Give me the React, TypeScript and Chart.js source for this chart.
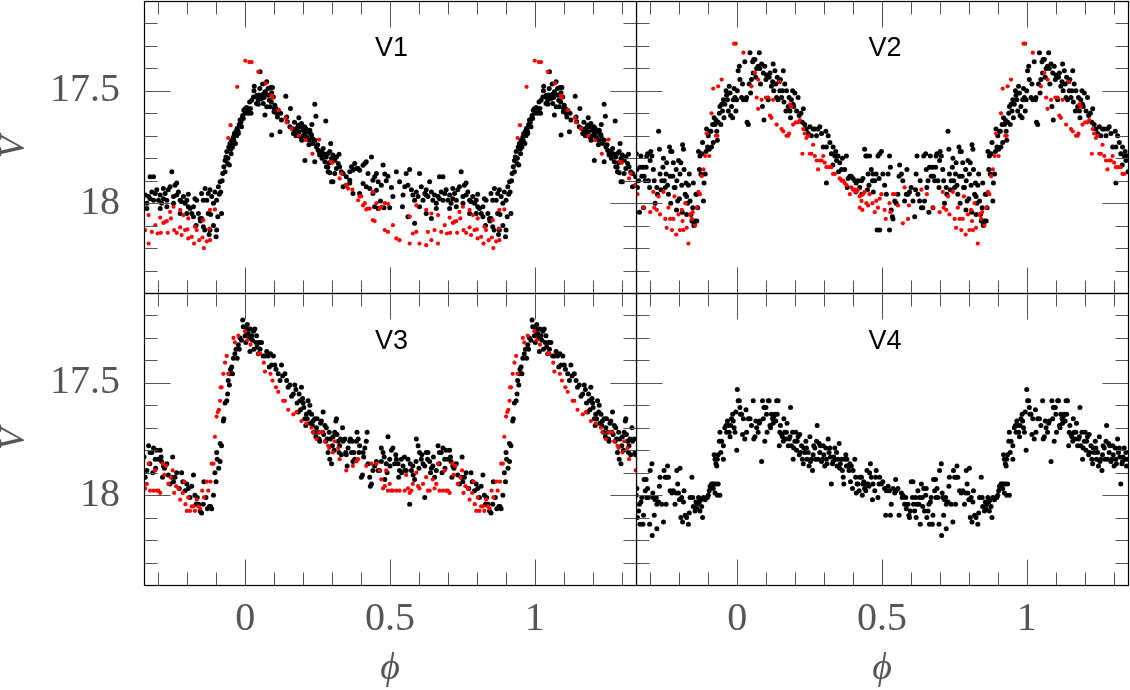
import React, { useEffect, useRef } from 'react';
import { Chart, registerables } from 'chart.js';
Chart.register(...registerables);

type Pt = [number, number];

// axis ranges and ticks
const PHASE_MIN = -0.35;
const PHASE_MAX = 1.35;
const MAG_MIN = 17.1;
const MAG_MAX = 18.4;
const phaseMinorTicks = [-0.3, -0.2, -0.1, 0, 0.1, 0.2, 0.3, 0.4, 0.5, 0.6, 0.7, 0.8, 0.9, 1, 1.1, 1.2, 1.3];
const phaseMajorTicks = [0, 0.5, 1];
const phaseTickLabels = ['0', '0.5', '1'];
const magMinorTicks = [17.2, 17.3, 17.4, 17.5, 17.6, 17.7, 17.8, 17.9, 18, 18.1, 18.2, 18.3];
const magMajorTicks = [17.5, 18];
const magTickLabels = ['17.5', '18'];
const panelNames = ['V1', 'V2', 'V3', 'V4'];

// V1 : [phase, V]
const v1Black: Pt[] = [
  [0.005,17.574],[0.01,17.586],[0.018,17.579],[0.022,17.542],[0.028,17.527],[0.031,17.48],[0.037,17.527],[0.039,17.556],[0.045,17.542],[0.048,17.519],
  [0.053,17.527],[0.056,17.534],[0.062,17.515],[0.068,17.504],[0.074,17.46],[0.079,17.49],[0.083,17.542],[0.087,17.485],[0.091,17.509],[0.094,17.485],
  [0.097,17.527],[0.102,17.564],[0.108,17.6],[0.114,17.586],[0.074,17.571],[0.068,17.608],[0.062,17.556],[0.085,17.571],[0.091,17.697],[0.099,17.593],
  [0.106,17.579],[0.111,17.616],[0.12,17.682],[0.122,17.6],[0.14,17.524],[0.156,17.579],[0.143,17.616],[0.125,17.63],[0.145,17.638],[0.154,17.66],
  [0.162,17.668],[0.166,17.69],[0.171,17.675],[0.177,17.668],[0.183,17.653],[0.186,17.682],[0.191,17.705],[0.194,17.645],[0.2,17.675],[0.206,17.69],
  [0.209,17.668],[0.211,17.705],[0.217,17.682],[0.221,17.72],[0.223,17.675],[0.229,17.697],[0.232,17.712],[0.234,17.734],[0.24,17.56],[0.244,17.613],
  [0.246,17.75],[0.252,17.764],[0.257,17.786],[0.263,17.77],[0.269,17.757],[0.275,17.782],[0.278,17.634],[0.28,17.794],[0.286,17.779],[0.292,17.77],
  [0.295,17.734],[0.298,17.801],[0.303,17.786],[0.309,17.809],[0.315,17.794],[0.321,17.823],[0.324,17.782],[0.326,17.838],[0.332,17.86],[0.303,17.81],
  [0.275,17.816],[0.28,17.838],[0.286,17.86],[0.292,17.865],[0.298,17.905],[0.303,17.905],[0.309,17.868],[0.315,17.846],[0.206,17.81],[0.24,17.816],
  [0.257,17.779],[0.338,17.868],[0.349,17.883],[0.361,17.86],[0.367,17.838],[0.372,17.853],[0.378,17.823],[0.384,17.846],[0.39,17.846],[0.395,17.853],
  [0.407,17.831],[0.413,17.823],[0.418,17.816],[0.424,17.868],[0.43,17.935],[0.436,17.794],[0.441,17.898],[0.447,17.883],[0.453,17.868],[0.459,17.905],
  [0.349,17.92],[0.361,17.898],[0.372,17.957],[0.395,17.957],[0.407,17.913],[0.418,17.927],[0.441,17.957],[0.453,17.942],[0.447,18.016],[0.459,18.024],
  [0.361,17.91],[0.338,17.927],
  [0.18,17.69],[0.19,17.66],[0.2,17.7],[0.205,17.66],[0.215,17.71],[0.225,17.69],[0.195,17.72],[0.175,17.7],[0.17,17.64],[0.185,17.62],
  [0.23,17.65],[0.22,17.74],[0.24,17.72],[0.25,17.74],[0.265,17.8],[0.27,17.78],[0.285,17.84],[0.29,17.82],[0.03,17.5],[0.04,17.52],
  [0.05,17.49],[0.06,17.47],[0.065,17.53],[0.07,17.51],[0.08,17.52],[0.09,17.55],[0.1,17.58],[0.045,17.56],[0.051,17.415],[0.02,17.6],
  [0.015,17.55],[0.01,17.6],[0.0,17.6],
  [0.47,17.92],[0.476,17.83],[0.482,17.87],[0.487,17.9],[0.493,17.88],[0.505,17.93],[0.51,17.97],[0.467,17.99],[0.479,18.02],[0.499,18.02],
  [0.522,17.86],[0.533,17.905],[0.551,17.927],[0.562,17.92],[0.568,17.85],[0.574,17.94],[0.579,17.964],[0.585,17.987],[0.591,17.95],[0.597,17.97],
  [0.602,17.868],[0.608,17.927],[0.614,17.987],[0.62,17.957],[0.625,17.94],[0.631,17.97],[0.637,17.905],[0.643,17.95],[0.648,17.987],[0.654,17.964],
  [0.66,18.0],[0.666,17.97],[0.671,17.883],[0.677,17.95],[0.683,17.883],[0.689,17.957],[0.694,17.94],[0.7,17.987],[0.706,17.964],[0.711,18.0],
  [0.717,17.98],[0.723,17.957],[0.729,17.987],[0.734,17.94],[0.74,17.927],[0.746,17.86],[0.752,17.97],[0.757,17.92],[0.763,17.91],[0.769,17.95],
  [0.775,17.987],[0.78,17.994],[0.786,17.97],[0.792,18.0],[0.798,17.987],[0.803,18.016],[0.809,18.024],[0.815,18.046],[0.821,18.016],[0.826,17.98],
  [0.832,17.987],[0.838,18.046],[0.844,18.068],[0.849,17.957],[0.855,17.987],[0.861,17.935],[0.867,17.987],[0.872,17.957],[0.878,17.94],[0.884,17.97],
  [0.89,18.0],[0.895,17.95],[0.901,17.987],[0.556,17.868],[0.543,18.016],[0.562,18.06],[0.585,18.09],[0.602,18.016],[0.625,18.046],[0.643,18.068],
  [0.66,18.024],[0.683,17.987],[0.706,18.024],[0.729,18.016],[0.752,18.0],[0.775,18.046],[0.798,18.046],[0.821,18.06],[0.849,18.068],[0.855,18.105],
  [0.872,18.046],[0.878,18.12],[0.545,17.964],[0.625,17.964],[0.671,17.98],[0.717,17.935],[0.763,17.964],[0.803,17.96],
  [0.83,18.1],[0.845,18.08],[0.86,18.12],[0.875,18.14],[0.88,18.05],[0.89,18.1],[0.899,18.15],[0.901,18.12],
  [0.907,17.927],[0.913,17.905],[0.915,17.95],[0.922,17.868],[0.926,17.838],[0.93,17.81],[0.933,17.794],[0.936,17.77],[0.939,17.823],[0.943,17.75],
  [0.947,17.734],[0.951,17.78],[0.953,17.72],[0.956,17.75],[0.959,17.705],[0.962,17.69],[0.966,17.734],[0.968,17.68],[0.972,17.666],[0.976,17.69],
  [0.979,17.65],[0.982,17.63],[0.987,17.66],[0.991,17.61],[0.993,17.623],[0.995,17.586],[0.999,17.58],
  [0.91,17.96],[0.92,17.9],[0.93,17.86],[0.94,17.8],[0.95,17.76],[0.96,17.72],[0.97,17.7],[0.975,17.68],[0.985,17.64],[0.99,17.62],
  [0.945,17.83],[0.955,17.74],[0.965,17.7],[0.905,18.06],[0.918,18.046],
];
const v1Red: Pt[] = [
  [0.401,17.97],[0.413,18.0],[0.424,18.024],[0.441,17.95],[0.453,18.0],[0.464,18.024],[0.47,18.016],[0.482,18.0],[0.493,18.003],
  [0.482,18.12],[0.493,18.128],[0.51,18.098],[0.522,18.157],[0.533,18.165],[0.568,18.18],[0.579,18.135],[0.591,18.128],[0.602,18.18],[0.625,18.187],
  [0.631,18.128],[0.643,18.165],[0.654,18.12],[0.666,18.18],[0.677,18.128],[0.689,18.098],[0.697,18.135],[0.568,18.06],[0.591,18.01],[0.625,18.03],
  [0.643,18.046],[0.666,18.053],
  [0.708,18.132],[0.717,18.088],[0.729,18.08],[0.732,18.132],[0.743,18.068],[0.754,18.12],[0.763,18.132],[0.775,18.108],[0.78,18.142],[0.792,18.12],
  [0.8,18.117],[0.803,18.157],[0.815,18.15],[0.823,18.18],[0.832,18.12],[0.841,18.165],[0.852,18.153],[0.857,18.2],[0.867,18.17],[0.878,18.165],
  [0.876,18.113],[0.895,18.028],[0.706,18.064],[0.723,18.083],[0.74,18.039],[0.752,18.016],[0.775,18.03],[0.786,18.053],[0.803,18.068],[0.826,18.105],
  [0.855,18.076],[0.878,18.03],
  [0.941,17.71],[0.949,17.653],[0.972,17.482],[0.0,17.366],[0.014,17.372],[0.022,17.372],[0.045,17.415],[0.071,17.467],[0.091,17.52],[0.094,17.53],
  [0.114,17.586],[0.139,17.62],[0.143,17.64],[0.16,17.668],[0.185,17.7],[0.209,17.72],[0.232,17.78],[0.255,17.717],[0.295,17.816],[0.301,17.82],
  [0.326,17.89],[0.332,17.868],[0.349,17.92],[0.355,17.935],[0.37,17.94],[0.39,17.987],[0.395,17.97],[0.407,18.01],[0.418,18.028],[0.43,18.024],
  [0.441,18.076],[0.447,18.08],
];

// V2
const v2Black: Pt[] = [
  [0.701,17.77],[0.705,17.79],[0.71,17.85],[0.713,17.9],[0.716,18.0],[0.722,17.93],[0.724,17.96],[0.728,17.68],[0.731,17.76],[0.733,17.87],
  [0.736,17.94],[0.739,17.9],[0.743,17.84],[0.745,17.8],[0.748,17.9],[0.751,17.93],[0.754,17.87],[0.756,17.82],[0.759,17.92],[0.762,17.96],
  [0.766,17.75],[0.768,17.88],[0.77,17.77],[0.774,17.77],[0.777,17.88],[0.779,17.82],[0.782,17.93],[0.785,17.93],[0.789,17.85],[0.791,17.9],
  [0.794,17.99],[0.797,17.81],[0.8,17.98],[0.802,17.87],[0.805,17.82],[0.808,17.92],[0.811,17.74],[0.814,17.76],[0.816,17.85],[0.82,17.96],
  [0.823,17.91],[0.825,17.97],[0.828,18.0],[0.831,17.92],[0.834,17.87],[0.837,17.99],[0.84,18.05],[0.843,18.08],[0.846,18.02],[0.848,17.91],
  [0.851,18.09],[0.854,18.08],[0.857,17.96],[0.86,17.96],[0.863,18.02],[0.866,17.77],[0.869,17.85],[0.871,17.79],[0.874,17.87],[0.877,17.78],
  [0.88,17.73],[0.883,17.99],[0.885,17.91],[0.889,17.87],[0.892,17.77],[0.894,17.67],[0.897,17.75],[0.9,17.7],[0.903,17.76],[0.906,17.68],
  [0.909,17.68],[0.911,17.75],[0.915,17.65],[0.917,17.73],[0.92,17.62],[0.923,17.65],[0.926,17.63],[0.929,17.68],[0.931,17.72],[0.934,17.64],
  [0.938,17.6],[0.94,17.57],[0.943,17.65],[0.946,17.56],[0.949,17.59],[0.952,17.54],[0.954,17.62],[0.957,17.56],[0.961,17.5],[0.963,17.52],
  [0.966,17.54],[0.969,17.59],[0.972,17.48],[0.975,17.51],[0.977,17.61],[0.98,17.57],[0.984,17.62],[0.986,17.54],[0.989,17.49],[0.992,17.53],
  [0.995,17.59],[0.998,17.54],
  [0.0,17.5],[0.003,17.41],[0.007,17.39],[0.009,17.45],[0.015,17.53],[0.018,17.47],[0.021,17.54],[0.026,17.37],[0.03,17.54],[0.032,17.53],
  [0.034,17.64],[0.038,17.65],[0.041,17.47],[0.044,17.33],[0.046,17.51],[0.049,17.45],[0.053,17.37],[0.055,17.42],[0.057,17.36],[0.061,17.36],
  [0.064,17.44],[0.067,17.4],[0.072,17.39],[0.076,17.33],[0.078,17.4],[0.08,17.47],[0.084,17.38],[0.087,17.57],[0.09,17.42],[0.092,17.63],
  [0.095,17.39],[0.099,17.45],[0.101,17.43],[0.107,17.54],[0.11,17.44],[0.113,17.42],[0.118,17.48],[0.122,17.46],[0.124,17.38],[0.126,17.5],
  [0.13,17.41],[0.133,17.47],[0.136,17.53],[0.138,17.44],[0.141,17.54],[0.145,17.46],[0.147,17.5],[0.149,17.45],[0.153,17.53],[0.156,17.5],
  [0.159,17.41],[0.161,17.55],[0.164,17.47],[0.168,17.59],[0.17,17.5],[0.176,17.57],[0.179,17.53],[0.182,17.59],[0.184,17.62],[0.187,17.54],
  [0.191,17.5],[0.193,17.56],[0.195,17.57],[0.199,17.51],[0.205,17.59],[0.21,17.53],[0.214,17.61],[0.22,17.6],[0.225,17.64],[0.228,17.58],
  [0.233,17.65],[0.239,17.67],[0.245,17.69],[0.251,17.66],[0.256,17.7],[0.262,17.67],[0.268,17.67],[0.274,17.7],[0.279,17.67],[0.285,17.66],
  [0.291,17.69],[0.297,17.75],[0.306,17.68],[0.308,17.75],[0.314,17.7],[0.32,17.73],[0.325,17.78],[0.331,17.75],[0.337,17.79],[0.34,17.77],
  [0.343,17.81],[0.348,17.79],[0.354,17.82],[0.36,17.85],[0.363,17.8],[0.371,17.85],[0.377,17.79],[0.383,17.89],[0.389,17.88],[0.394,17.88],
  [0.4,17.89],[0.406,17.9],[0.411,17.91],[0.417,17.9],[0.423,17.93],[0.429,17.9],[0.434,17.89],[0.44,17.76],[0.444,17.79],[0.448,17.79],
  [0.452,17.87],[0.455,17.92],[0.457,17.79],[0.463,17.85],[0.467,17.9],[0.469,17.87],[0.475,17.9],[0.48,17.87],[0.486,17.79],[0.49,17.89],
  [0.483,18.12],[0.308,17.91],[0.38,17.93],[0.41,17.95],[0.43,17.96],[0.45,17.94],[0.47,17.95],[0.35,17.86],[0.33,17.83],
  [0.492,17.78],[0.498,17.77],[0.503,17.87],[0.509,17.92],[0.515,17.96],[0.521,17.87],[0.526,17.79],[0.529,17.84],[0.532,18.03],[0.536,18.06],
  [0.538,18.07],[0.544,17.99],[0.549,18.0],[0.555,17.96],[0.559,17.88],[0.561,17.83],[0.567,17.87],[0.572,17.9],[0.578,17.99],[0.584,17.96],
  [0.586,17.85],[0.59,17.96],[0.595,17.95],[0.601,17.93],[0.607,17.99],[0.613,18.06],[0.616,17.94],[0.618,17.87],[0.621,17.79],[0.624,17.96],
  [0.63,17.99],[0.632,17.9],[0.636,18.02],[0.641,18.02],[0.644,17.79],[0.647,17.99],[0.651,17.78],[0.653,17.85],[0.655,17.93],[0.659,17.9],
  [0.662,18.04],[0.664,17.84],[0.667,17.79],[0.67,17.88],[0.674,17.84],[0.676,18.02],[0.678,17.88],[0.682,17.9],[0.685,17.84],[0.687,17.79],
  [0.69,17.78],[0.693,17.9],[0.697,17.93],[0.699,17.81],[0.492,18.12],[0.526,18.12],
  [0.77,18.0],[0.79,18.03],[0.81,18.04],[0.825,18.05],[0.85,18.1],[0.86,18.08],
];
const v2Red: Pt[] = [
  [0.71,17.95],[0.713,18.02],[0.722,18.03],[0.728,17.97],[0.733,18.05],[0.745,17.95],[0.751,18.07],[0.756,18.11],[0.762,18.02],[0.768,18.07],
  [0.774,18.12],[0.779,18.07],[0.783,17.97],[0.789,18.14],[0.797,18.05],[0.802,18.12],[0.808,18.03],[0.811,18.08],[0.814,18.12],[0.82,18.0],
  [0.825,18.11],[0.831,18.18],[0.837,18.05],[0.843,18.07],[0.846,18.04],[0.854,18.1],[0.86,18.02],[0.866,17.95],[0.871,17.96],[0.877,17.88],
  [0.883,17.85],[0.889,17.79],[0.894,17.69],[0.903,17.79],[0.911,17.6],[0.917,17.49],[0.926,17.7],[0.931,17.7],[0.934,17.48],[0.946,17.45],
  [0.989,17.29],[0.995,17.29],[0.021,17.33],[0.049,17.48],[0.061,17.42],[0.067,17.53],[0.072,17.45],[0.072,17.58],[0.084,17.54],[0.099,17.53],
  [0.107,17.53],[0.113,17.61],[0.118,17.62],[0.124,17.54],[0.136,17.65],[0.145,17.46],[0.153,17.67],[0.159,17.68],[0.17,17.7],[0.176,17.7],
  [0.179,17.69],[0.182,17.56],[0.187,17.57],[0.193,17.65],[0.202,17.64],[0.21,17.64],[0.216,17.63],[0.225,17.78],[0.228,17.67],[0.233,17.69],
  [0.239,17.71],[0.245,17.7],[0.251,17.78],[0.256,17.78],[0.262,17.74],[0.268,17.79],[0.274,17.81],[0.279,17.85],[0.285,17.81],[0.291,17.81],
  [0.297,17.79],[0.302,17.82],[0.308,17.84],[0.317,17.84],[0.325,17.84],[0.331,17.87],[0.337,17.87],[0.354,17.89],[0.36,17.9],[0.366,17.9],
  [0.371,17.91],[0.377,17.92],[0.389,17.96],[0.394,17.93],[0.4,17.94],[0.406,17.94],[0.411,17.95],[0.417,17.94],[0.423,17.97],[0.429,17.99],
  [0.434,17.96],[0.44,17.95],[0.446,18.0],[0.452,18.01],[0.457,17.96],[0.467,18.0],[0.475,18.04],[0.48,17.99],[0.486,18.02],[0.423,18.02],
  [0.432,18.03],
  [0.492,17.98],[0.498,17.96],[0.509,18.03],[0.513,18.07],[0.526,18.0],[0.529,18.04],[0.538,17.96],[0.544,17.96],[0.555,18.01],[0.572,18.09],
  [0.578,17.93],[0.59,18.07],[0.593,18.01],[0.636,17.94],[0.655,17.96],[0.676,18.02],[0.699,18.04],
];

// V3
const v3Black: Pt[] = [
  [0.706,17.80],[0.709,17.83],[0.711,17.85],[0.717,17.87],[0.714,17.92],[0.721,17.88],[0.729,17.86],[0.734,17.91],[0.74,17.95],[0.746,17.92],
  [0.749,17.83],[0.752,17.94],[0.757,17.92],[0.763,17.9],[0.772,17.97],[0.78,17.9],[0.784,17.94],[0.792,17.98],[0.798,17.95],[0.803,17.97],
  [0.809,18.01],[0.815,17.96],[0.821,17.91],[0.826,18.0],[0.83,18.04],[0.834,18.01],[0.839,18.04],[0.844,18.07],[0.849,18.08],[0.855,18.04],
  [0.857,17.94],[0.864,18.01],[0.869,18.06],[0.876,18.05],[0.88,18.05],[0.884,18.06],[0.89,18.0],[0.895,17.9],[0.899,17.94],[0.903,17.84],
  [0.901,17.81],[0.908,17.88],[0.913,17.85],[0.913,17.77],[0.918,17.78],[0.924,17.67],[0.926,17.66],[0.93,17.59],[0.936,17.58],[0.939,17.55],
  [0.941,17.49],[0.945,17.51],[0.947,17.46],[0.949,17.44],[0.953,17.43],[0.956,17.46],[0.959,17.39],[0.964,17.37],[0.968,17.35],[0.972,17.39],
  [0.976,17.33],[0.979,17.35],[0.982,17.3],[0.987,17.31],[0.991,17.22],[0.993,17.25],[0.999,17.29],
  [0.002,17.32],[0.005,17.26],[0.007,17.24],[0.01,17.28],[0.014,17.3],[0.016,17.36],[0.018,17.26],[0.022,17.29],[0.025,17.31],[0.028,17.27],
  [0.03,17.35],[0.033,17.26],[0.037,17.32],[0.039,17.29],[0.041,17.34],[0.045,17.37],[0.048,17.32],[0.051,17.35],[0.056,17.32],[0.062,17.38],
  [0.068,17.38],[0.074,17.36],[0.079,17.38],[0.083,17.43],[0.087,17.37],[0.091,17.42],[0.097,17.38],[0.102,17.42],[0.106,17.44],[0.114,17.46],
  [0.12,17.49],[0.125,17.42],[0.129,17.47],[0.137,17.46],[0.143,17.49],[0.148,17.52],[0.154,17.51],[0.16,17.56],[0.166,17.55],[0.171,17.51],
  [0.175,17.53],[0.179,17.59],[0.183,17.63],[0.186,17.55],[0.189,17.58],[0.191,17.62],[0.194,17.52],[0.198,17.57],[0.2,17.59],[0.202,17.61],
  [0.206,17.66],[0.209,17.69],[0.211,17.64],[0.214,17.66],[0.217,17.58],[0.221,17.63],[0.223,17.6],[0.225,17.68],[0.229,17.64],[0.232,17.69],
  [0.234,17.67],[0.237,17.72],[0.24,17.66],[0.244,17.74],[0.246,17.7],[0.248,17.66],[0.252,17.72],[0.255,17.75],[0.257,17.76],[0.26,17.68],
  [0.263,17.67],[0.267,17.72],[0.269,17.63],[0.271,17.73],[0.275,17.69],[0.278,17.76],[0.28,17.7],[0.283,17.75],[0.286,17.81],[0.29,17.72],
  [0.292,17.84],[0.294,17.75],[0.298,17.86],[0.301,17.78],[0.303,17.74],[0.307,17.8],[0.309,17.72],[0.313,17.67],[0.315,17.66],[0.317,17.73],
  [0.321,17.76],[0.324,17.81],[0.326,17.78],[0.329,17.75],[0.332,17.82],[0.336,17.7],[0.338,17.76],[0.344,17.75],[0.347,17.81],[0.349,17.82],
  [0.352,17.87],[0.355,17.79],[0.361,17.76],[0.363,17.75],[0.367,17.81],[0.37,17.76],[0.372,17.85],[0.375,17.81],[0.378,17.84],[0.384,17.76],
  [0.386,17.72],[0.39,17.75],[0.393,17.81],[0.395,17.78],[0.401,17.92],[0.405,17.91],[0.407,17.81],[0.409,17.83],[0.413,17.79],[0.418,17.76],
  [0.421,17.72],[0.424,17.86],[0.43,17.92],[0.432,17.96],[0.436,17.95],[0.441,17.89],[0.447,17.87],[0.453,17.85],[0.459,17.89],
  [0.464,17.89],[0.47,17.79],[0.476,17.81],[0.482,17.93],[0.487,17.86],[0.493,17.74],[0.499,17.84],[0.505,17.8],[0.51,17.79],[0.516,17.86],
  [0.522,17.84],[0.528,17.86],[0.533,17.89],[0.539,17.84],[0.545,17.87],[0.551,17.89],[0.556,17.89],[0.562,17.84],[0.568,18.04],[0.574,17.89],
  [0.579,17.87],[0.585,17.93],[0.591,17.75],[0.597,17.78],[0.602,17.81],[0.608,17.84],[0.614,17.86],[0.62,18.01],[0.625,17.81],[0.631,17.81],
  [0.637,17.85],[0.643,17.88],[0.648,17.87],[0.654,17.92],[0.66,17.89],[0.666,17.78],[0.671,17.81],[0.677,17.81],[0.683,17.79],[0.689,17.84],
  [0.694,17.8],[0.7,17.84],
  [0.48,17.83],[0.5,17.87],[0.52,17.82],[0.54,17.9],[0.55,17.83],[0.57,17.86],[0.58,17.91],[0.6,17.88],[0.61,17.82],[0.63,17.84],
  [0.64,17.9],[0.65,17.83],[0.67,17.86],[0.69,17.88],[0.47,17.85],[0.49,17.9],[0.53,17.92],[0.59,17.85],[0.62,17.87],[0.68,17.9],
];
const v3Red: Pt[] = [
  [0.706,17.99],[0.715,17.86],[0.72,17.91],[0.726,17.87],[0.734,17.95],[0.743,17.92],[0.749,17.89],[0.754,17.99],[0.761,17.96],[0.769,17.97],
  [0.775,18.02],[0.784,17.99],[0.789,17.94],[0.793,18.04],[0.798,18.07],[0.803,18.01],[0.809,18.07],[0.815,18.05],[0.821,18.05],[0.826,18.07],
  [0.832,18.02],[0.838,18.05],[0.844,18.06],[0.851,17.98],[0.857,18.01],[0.867,17.94],[0.872,17.98],[0.88,17.94],[0.884,17.86],[0.89,17.86],
  [0.895,17.74],[0.901,17.65],[0.905,17.63],[0.909,17.62],[0.913,17.58],[0.915,17.52],[0.918,17.52],[0.924,17.46],[0.93,17.41],[0.936,17.38],
  [0.941,17.46],[0.959,17.3],[0.964,17.32],[0.976,17.29],[0.999,17.27],[0.007,17.31],[0.018,17.33],[0.045,17.37],[0.051,17.37],[0.064,17.41],
  [0.068,17.45],[0.087,17.46],[0.094,17.49],[0.106,17.52],[0.114,17.54],[0.131,17.58],[0.137,17.58],[0.148,17.62],[0.166,17.64],[0.177,17.63],
  [0.194,17.67],[0.211,17.68],[0.229,17.7],[0.234,17.72],[0.246,17.75],[0.255,17.72],[0.267,17.72],[0.275,17.76],[0.286,17.78],[0.29,17.79],
  [0.303,17.81],[0.309,17.76],[0.321,17.79],[0.326,17.84],[0.349,17.89],[0.372,17.87],[0.384,17.85],[0.39,17.84],[0.418,17.87],[0.436,17.86],
  [0.453,17.86],
  [0.464,17.89],[0.47,17.93],[0.476,17.97],[0.482,17.96],[0.487,17.89],[0.493,17.98],[0.499,17.95],[0.505,17.98],[0.51,17.98],[0.522,17.98],
  [0.533,17.98],[0.551,17.98],[0.556,17.91],[0.562,17.97],[0.568,17.99],[0.574,17.98],[0.579,17.95],[0.591,17.9],[0.597,17.96],[0.602,17.97],
  [0.614,17.95],[0.625,17.92],[0.631,17.98],[0.637,17.98],[0.648,17.93],[0.654,17.97],[0.66,17.95],[0.666,17.86],[0.671,17.98],[0.683,17.98],
  [0.689,17.89],[0.694,17.98],[0.7,17.98],
];

// V4
const v4Black: Pt[] = [
  [0.705,17.86],[0.708,17.99],[0.71,18.01],[0.713,18.09],[0.716,18.02],[0.72,18.01],[0.722,18.04],[0.728,18.03],[0.731,17.96],[0.733,17.92],
  [0.739,18.04],[0.745,18.12],[0.747,17.89],[0.751,17.92],[0.754,18.04],[0.756,17.92],[0.759,17.87],[0.762,17.92],[0.768,17.98],[0.774,17.99],
  [0.779,17.98],[0.785,18.04],[0.789,17.99],[0.791,17.89],[0.794,17.95],[0.797,17.99],[0.8,18.02],[0.802,17.88],[0.805,18.1],[0.808,18.01],
  [0.811,18.12],[0.814,18.03],[0.816,17.98],[0.82,18.09],[0.825,18.1],[0.831,18.13],[0.834,18.08],[0.837,18.01],[0.843,17.92],[0.846,18.01],
  [0.848,18.05],[0.854,18.07],[0.857,18.03],[0.86,18.06],[0.862,18.04],[0.866,18.01],[0.869,18.03],[0.871,18.07],[0.874,18.02],[0.877,18.05],
  [0.88,18.1],[0.883,18.01],[0.889,18.02],[0.894,18.01],[0.897,18.01],[0.9,18.0],[0.903,17.98],[0.906,17.96],[0.908,17.97],[0.911,17.95],
  [0.915,17.95],[0.917,17.97],[0.92,17.95],[0.923,17.99],[0.926,17.95],[0.931,18.0],[0.934,17.95],[0.94,18.0],[0.943,17.81],[0.923,17.84],
  [0.92,17.82],[0.926,17.86],[0.929,17.87],[0.931,17.84],[0.934,17.82],[0.938,17.76],[0.94,17.72],[0.946,17.76],[0.952,17.84],[0.952,17.78],
  [0.957,17.7],[0.961,17.69],[0.963,17.72],[0.966,17.67],[0.969,17.69],[0.972,17.72],[0.975,17.74],[0.977,17.69],[0.98,17.66],[0.984,17.64],
  [0.986,17.67],[0.989,17.7],[0.992,17.72],[0.995,17.63],[0.998,17.8],[0.706,18.18],[0.722,18.15],
  [0.0,17.53],[0.003,17.58],[0.007,17.58],[0.009,17.61],[0.011,17.64],[0.015,17.64],[0.018,17.73],[0.021,17.66],[0.026,17.75],[0.03,17.62],
  [0.032,17.72],[0.038,17.66],[0.044,17.66],[0.049,17.69],[0.055,17.58],[0.057,17.75],[0.061,17.74],[0.064,17.67],[0.067,17.7],[0.072,17.72],
  [0.076,17.68],[0.078,17.67],[0.084,17.85],[0.087,17.58],[0.09,17.66],[0.092,17.61],[0.095,17.76],[0.099,17.61],[0.101,17.64],[0.103,17.72],
  [0.107,17.58],[0.11,17.58],[0.113,17.69],[0.115,17.7],[0.118,17.64],[0.122,17.66],[0.124,17.68],[0.126,17.65],[0.13,17.64],[0.133,17.67],
  [0.136,17.58],[0.138,17.64],[0.141,17.58],[0.145,17.78],[0.147,17.72],[0.149,17.69],[0.153,17.73],[0.156,17.74],[0.159,17.76],[0.161,17.66],
  [0.164,17.72],[0.168,17.75],[0.17,17.72],[0.172,17.68],[0.176,17.78],[0.179,17.75],[0.182,17.74],[0.184,17.61],[0.187,17.78],[0.191,17.72],
  [0.193,17.84],[0.195,17.79],[0.199,17.76],[0.202,17.72],[0.205,17.8],[0.207,17.76],[0.21,17.74],[0.214,17.82],[0.216,17.73],[0.218,17.81],
  [0.222,17.78],[0.225,17.84],[0.228,17.86],[0.23,17.79],[0.233,17.81],[0.237,17.76],[0.239,17.79],[0.241,17.84],[0.245,17.81],[0.248,17.87],
  [0.251,17.74],[0.253,17.85],[0.256,17.84],[0.26,17.89],[0.262,17.82],[0.264,17.78],[0.268,17.79],[0.271,17.84],[0.274,17.76],[0.276,17.69],
  [0.279,17.84],[0.283,17.77],[0.285,17.81],[0.287,17.78],[0.291,17.85],[0.294,17.84],[0.297,17.78],[0.299,17.82],[0.302,17.87],[0.306,17.79],
  [0.308,17.84],[0.31,17.86],[0.314,17.75],[0.317,17.81],[0.32,17.79],[0.322,17.83],[0.325,17.95],[0.329,17.86],[0.331,17.85],[0.333,17.83],
  [0.337,17.79],[0.34,17.84],[0.343,17.81],[0.345,17.87],[0.348,17.84],[0.352,17.77],[0.354,17.88],[0.356,17.86],[0.36,17.84],[0.363,17.89],
  [0.366,17.92],[0.368,17.95],[0.371,17.84],[0.375,17.82],[0.377,17.87],[0.379,17.84],[0.383,17.87],[0.386,17.89],[0.389,17.86],[0.391,17.94],
  [0.394,17.87],[0.398,17.97],[0.4,17.89],[0.406,17.84],[0.409,17.92],[0.411,17.99],[0.414,17.95],[0.417,17.95],[0.421,17.98],[0.423,17.92],
  [0.429,17.92],[0.432,18.0],[0.434,17.95],[0.437,17.94],[0.44,17.97],[0.444,17.98],[0.446,17.95],[0.448,17.89],[0.452,17.95],[0.455,17.96],
  [0.457,17.9],[0.46,17.86],[0.463,17.92],[0.467,18.02],[0.469,17.95],[0.475,17.98],[0.478,17.92],[0.48,17.89],[0.486,18.01],[0.49,17.95],
  [0.492,17.92],[0.498,17.95],[0.503,17.94],[0.509,17.97],[0.513,18.09],[0.515,17.98],[0.521,17.96],[0.526,17.98],[0.529,18.09],[0.532,18.04],
  [0.538,17.97],[0.544,17.99],[0.547,17.93],[0.549,17.98],[0.555,17.97],[0.559,18.09],[0.567,17.99],[0.57,18.01],[0.572,18.0],[0.578,18.04],
  [0.582,18.01],[0.584,18.06],[0.586,18.04],[0.59,18.04],[0.593,18.09],[0.595,18.1],[0.598,18.07],[0.601,17.94],[0.605,18.01],[0.607,17.94],
  [0.609,18.04],[0.613,18.07],[0.616,18.01],[0.618,18.1],[0.621,18.04],[0.624,17.98],[0.628,18.04],[0.63,18.01],[0.632,18.13],[0.636,17.95],
  [0.639,18.01],[0.641,18.05],[0.644,17.97],[0.647,18.07],[0.651,18.0],[0.653,17.97],[0.655,18.1],[0.659,18.07],[0.662,18.04],[0.664,18.13],
  [0.667,18.03],[0.67,18.01],[0.674,18.13],[0.676,18.09],[0.678,17.93],[0.682,17.98],[0.685,17.93],[0.687,18.01],[0.69,17.97],[0.693,18.01],
  [0.697,18.13],[0.699,17.89],
];
const v4Red: Pt[] = [];

// where the panel names sit, in data units
const nameAt: Pt[] = [[0.505, 17.31], [0.51, 17.31], [0.505, 17.315], [0.51, 17.315]];

function fold(pts: Pt[]) {
  const out: { x: number; y: number }[] = [];
  for (const [p, m] of pts) {
    for (const s of [-1, 0, 1]) {
      const q = p + s;
      if (q >= PHASE_MIN && q <= PHASE_MAX) out.push({ x: q, y: m });
    }
  }
  return out;
}

const serif = "'Liberation Serif', 'DejaVu Serif', serif";

function makeFramePlugin(name: string, at: Pt) {
  return {
    id: 'frameTicks',
    afterDatasetsDraw(chart: any) {
      const { ctx, chartArea } = chart;
      const l = Math.round(chartArea.left) + 0.5;
      const r = Math.round(chartArea.right) + 0.5;
      const t = Math.round(chartArea.top) + 0.5;
      const b = Math.round(chartArea.bottom) + 0.5;
      const xs = chart.scales.x;
      const ys = chart.scales.y;
      ctx.save();
      ctx.strokeStyle = '#555';
      ctx.lineWidth = 1;
      ctx.beginPath();
      for (const v of phaseMinorTicks) {
        const px = Math.round(xs.getPixelForValue(v)) + 0.5;
        const len = phaseMajorTicks.includes(v) ? 26 : 13;
        ctx.moveTo(px, b);
        ctx.lineTo(px, b - len);
        ctx.moveTo(px, t);
        ctx.lineTo(px, t + len);
      }
      for (const v of magMinorTicks) {
        const py = Math.round(ys.getPixelForValue(v)) + 0.5;
        const len = magMajorTicks.includes(v) ? 26 : 13;
        ctx.moveTo(l, py);
        ctx.lineTo(l + len, py);
        ctx.moveTo(r, py);
        ctx.lineTo(r - len, py);
      }
      ctx.stroke();
      ctx.strokeStyle = '#000';
      ctx.lineWidth = 1.2;
      ctx.strokeRect(l, t, r - l, b - t);
      ctx.fillStyle = '#000';
      ctx.font = "27px 'Liberation Sans', Arial, sans-serif";
      ctx.textAlign = 'center';
      ctx.textBaseline = 'middle';
      ctx.fillText(name, xs.getPixelForValue(at[0]), ys.getPixelForValue(at[1]));
      ctx.restore();
    },
  };
}

interface PanelProps {
  black: Pt[];
  red: Pt[];
  idx: number;
}

function clearPadding(s: any) {
  s.paddingTop = 0;
  s.paddingBottom = 0;
  s.paddingLeft = 0;
  s.paddingRight = 0;
}

function Panel({ black, red, idx }: PanelProps) {
  const ref = useRef<HTMLCanvasElement>(null);
  const col = idx % 2;
  const row = Math.floor(idx / 2);
  const left = col === 0 ? 0 : 636;
  const top = row === 0 ? 0 : 292;
  const width = col === 0 ? 640 : 494;
  const height = row === 0 ? 296 : 398;
  useEffect(() => {
    const showY = col === 0;
    const showX = row === 1;
    const chart = new Chart(ref.current as HTMLCanvasElement, {
      type: 'scatter',
      data: {
        datasets: [
          { data: fold(red), backgroundColor: '#ff0000', borderWidth: 0, pointRadius: 2.1, pointHoverRadius: 2.1 },
          { data: fold(black), backgroundColor: '#000000', borderWidth: 0, pointRadius: 2.5, pointHoverRadius: 2.5 },
        ],
      },
      options: {
        animation: false,
        responsive: false,
        maintainAspectRatio: false,
        events: [],
        layout: {
          autoPadding: false,
          padding: { left: 0, top: 1, right: col === 0 ? 4 : 2, bottom: row === 0 ? 3 : 0 },
        },
        plugins: { legend: { display: false }, tooltip: { enabled: false } },
        scales: {
          x: {
            type: 'linear',
            min: PHASE_MIN,
            max: PHASE_MAX,
            display: showX,
            grid: { display: false, drawTicks: false },
            border: { display: false },
            afterBuildTicks: (s: any) => {
              s.ticks = phaseMajorTicks.map((v) => ({ value: v }));
            },
            afterFit: (s: any) => {
              clearPadding(s);
              s.height = showX ? 105 : 0;
            },
            ticks: {
              padding: 10,
              color: '#555',
              autoSkip: false,
              maxRotation: 0,
              font: { family: serif, size: 40 },
              callback: (_v: any, i: number) => phaseTickLabels[i],
            },
            title: {
              display: true,
              text: '\u03D5',
              color: '#555',
              padding: 0,
              font: { family: serif, size: 38, style: 'italic', lineHeight: 1.1 },
            },
          },
          y: {
            type: 'linear',
            min: MAG_MIN,
            max: MAG_MAX,
            reverse: true,
            display: showY,
            grid: { display: false, drawTicks: false },
            border: { display: false },
            afterBuildTicks: (s: any) => {
              s.ticks = magMajorTicks.map((v) => ({ value: v }));
            },
            afterFit: (s: any) => {
              clearPadding(s);
              s.width = showY ? 144 : 0;
            },
            ticks: {
              padding: 24,
              color: '#555',
              autoSkip: false,
              font: { family: serif, size: 40 },
              callback: (_v: any, i: number) => magTickLabels[i],
            },
            title: {
              display: true,
              text: 'V',
              color: '#555',
              padding: 0,
              font: { family: serif, size: 36, style: 'italic', lineHeight: 0.8 },
            },
          },
        },
      } as any,
      plugins: [makeFramePlugin(panelNames[idx], nameAt[idx])],
    });
    return () => chart.destroy();
  }, []);
  return (
    <canvas
      ref={ref}
      width={width}
      height={height}
      style={{ position: 'absolute', left, top, width, height }}
    />
  );
}

export default function App() {
  return (
    <div style={{ position: 'absolute', left: 0, top: 0, width: 1130, height: 690, background: '#fff', overflow: 'hidden' }}>
      <Panel idx={0} black={v1Black} red={v1Red} />
      <Panel idx={1} black={v2Black} red={v2Red} />
      <Panel idx={2} black={v3Black} red={v3Red} />
      <Panel idx={3} black={v4Black} red={v4Red} />
    </div>
  );
}
